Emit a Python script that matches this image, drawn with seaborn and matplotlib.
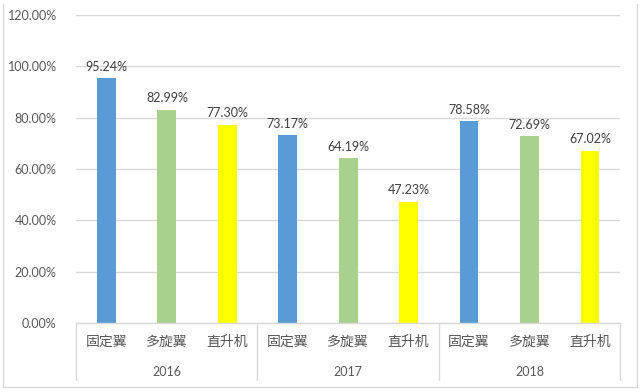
import matplotlib
matplotlib.use("Agg")
from matplotlib import pyplot as plt
from matplotlib.lines import Line2D
import matplotlib.transforms as mtransforms
import seaborn as sns
import pandas as pd

years = ["2016", "2017", "2018"]
types = ["固定翼", "多旋翼", "直升机"]
values = [
    [95.24, 82.99, 77.30],
    [73.17, 64.19, 47.23],
    [78.58, 72.69, 67.02],
]
colors = ["#5B9BD5", "#A9D18E", "#FFFF00"]
yticks = [0, 20, 40, 60, 80, 100, 120]

rows = []
for y, vals in zip(years, values):
    for t, v in zip(types, vals):
        rows.append({"year": y, "type": t, "value": v})
df = pd.DataFrame(rows)

sns.set_style("white")
plt.rcParams['font.family'] = ['Lato', 'DejaVu Sans']
cjk = ['Noto Sans CJK SC', 'DejaVu Sans']

fig = plt.figure(figsize=(6.4, 3.92), dpi=100)
ax = fig.add_axes([0.119, 0.176, 0.85, 0.786])

sns.barplot(data=df, x="year", y="value", hue="type", hue_order=types,
            palette=colors, width=1.0, gap=0.69, ax=ax, legend=False,
            edgecolor="none", saturation=1)

for c in ax.containers:
    ax.bar_label(c, labels=[f"{v:.2f}%" for v in c.datavalues], padding=4,
                 fontsize=9, color="#404040")

ax.set_xlim(-0.5, 2.5)
ax.set_ylim(0, 120)
ax.set_yticks(yticks)
ax.set_yticklabels([f"{v:.2f}%" for v in yticks], fontsize=9, color="#595959")
ax.yaxis.grid(True, color="#D9D9D9", linewidth=1)
ax.set_axisbelow(True)
ax.tick_params(axis="y", length=0, pad=14)
ax.set_xticks([])
ax.set_xlabel("")
ax.set_ylabel("")
for s in ["left", "right", "top"]:
    ax.spines[s].set_visible(False)
ax.spines["bottom"].set_color("#D9D9D9")
ax.spines["bottom"].set_linewidth(1)

trans = mtransforms.blended_transform_factory(ax.transData, ax.transAxes)
for b in [-0.5, 0.5, 1.5, 2.5]:
    ax.plot([b, b], [0, -0.185], transform=trans, color="#D9D9D9",
            linewidth=1, clip_on=False)
for i, y in enumerate(years):
    for j, t in enumerate(types):
        ax.text(i + (j - 1) / 3, -0.062, t, transform=trans, ha="center",
                va="center", fontsize=10, color="#595959", family=cjk)
    ax.text(i, -0.16, y, transform=trans, ha="center", va="center",
            fontsize=9, color="#595959")

# light frame on left, bottom and right (no top edge)
fig.lines.append(Line2D([0.005, 0.005, 0.995, 0.995], [0.99, 0.012, 0.012, 0.99],
                        transform=fig.transFigure, color="#D9D9D9", linewidth=1))

fig.savefig("out.png", dpi=100)
